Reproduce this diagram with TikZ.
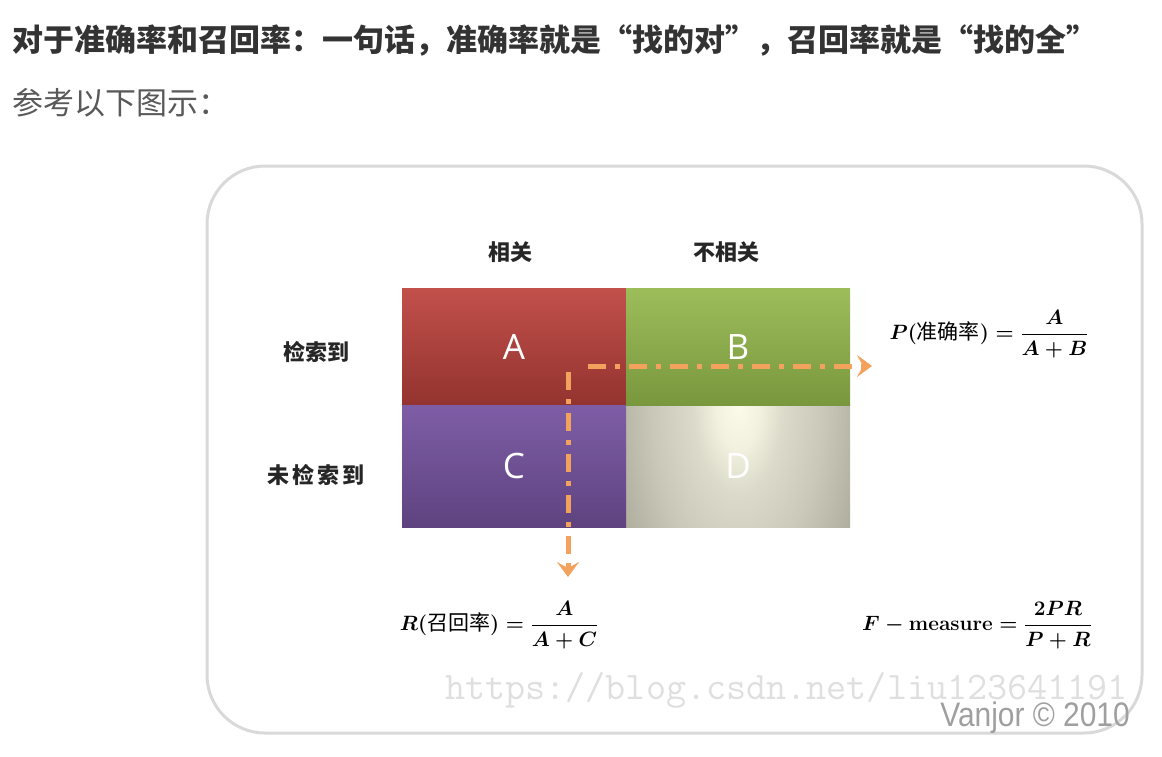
\documentclass[tikz,border=0pt]{standalone}
\usepackage{amsmath,amssymb}
\usepackage{graphicx}
\usepackage{fontspec}
\newfontfamily\cjk{Noto Sans CJK SC}
\newfontfamily\lettersf{Open Sans}
\newfontfamily\creditsf{Liberation Sans}
\usepackage{tikz}
\usetikzlibrary{arrows.meta,positioning,backgrounds}

\definecolor{redA}{HTML}{C2504B}
\definecolor{redAdark}{HTML}{93332F}
\definecolor{greenB}{HTML}{9DBD5B}
\definecolor{greenBdark}{HTML}{79973D}
\definecolor{purpleC}{HTML}{7E5DA6}
\definecolor{purpleCdark}{HTML}{5E4380}
\definecolor{flowOrange}{HTML}{F2A25C}

\pgfdeclareradialshading{cellglow}{\pgfpoint{0bp}{0bp}}{%
  color(0bp)=(rgb,255:red,252;green,250;blue,232);
  color(5bp)=(rgb,255:red,242;green,240;blue,222);
  color(10bp)=(rgb,255:red,220;green,218;blue,202);
  color(19bp)=(rgb,255:red,202;green,200;blue,184);
  color(30bp)=(rgb,255:red,172;green,170;blue,154);
  color(36bp)=(rgb,255:red,142;green,140;blue,124);
  color(100bp)=(rgb,255:red,136;green,134;blue,118)}

\begin{document}
\begin{tikzpicture}[
  x=1pt, y=-1pt,
  cell/.style={rectangle, minimum width=224pt, minimum height=117pt, inner sep=0pt, outer sep=0pt, text=white, font=\lettersf\fontsize{35}{40}\selectfont},
  headtext/.style={font=\cjk\bfseries\fontsize{22}{26}\selectfont, text=black!85},
  formula/.style={font=\fontsize{21}{25}\selectfont\boldmath, text=black},
  flow/.style={draw=flowOrange, line width=5pt, dash pattern=on 18pt off 9pt on 5pt off 9pt, -{Stealth[length=15pt,width=22pt,inset=6pt]}},
  >=Stealth
]
\useasboundingbox (0,0) rectangle (1162,756);

% Heading
\node[anchor=west, inner sep=0pt, font=\cjk\bfseries\fontsize{31}{36}\selectfont, text=black!80] (title) at (12,40) {对于准确率和召回率：一句话，准确率就是“找的对”，召回率就是“找的全”};
\node[anchor=west, inner sep=0pt, font=\cjk\fontsize{31}{36}\selectfont, text=black!65] (subtitle) at (12,103) {参考以下图示：};

% Frame
\node[draw=gray!30, line width=3pt, rounded corners=58pt, minimum width=935pt, minimum height=567pt] (frame) at (674.5,449.5) {};

% Cells
\node[cell, top color=redA, bottom color=redAdark] (cellA) at (514,346.5) {A};
\node[cell, top color=greenB, bottom color=greenBdark, right=0pt of cellA] (cellB) {B};
\node[cell, minimum height=122pt, top color=purpleC, bottom color=purpleCdark, below=0pt of cellA] (cellC) {C};
\node[cell, minimum height=122pt, below=0pt of cellB] (cellD) {D};
\begin{scope}[on background layer]
  \clip (cellD.south west) rectangle (cellD.north east);
  \path[shading=cellglow] ([yshift=220pt]cellD.north west) rectangle ([yshift=-220pt]cellD.north east);
\end{scope}

% Labels
\node[headtext] (colRel) at (510,252) {相关};
\node[headtext] (colNonRel) at (726,252) {不相关};
\node[headtext] (rowHit) at (316,352) {检索到};
\node[headtext, font=\cjk\bfseries\fontsize{22}{26}\selectfont\addfontfeature{LetterSpace=15}] (rowMiss) at (316,475) {未检索到};

% Formulas
\node[formula] (precision) at (989,334) {$P(\mbox{\cjk 准确率})=\dfrac{A}{A+B}$};
\node[formula] (recall) at (499,625) {$R(\mbox{\cjk 召回率})=\dfrac{A}{A+C}$};
\node[formula] (fmeasure) at (977,625) {$F-\mathbf{measure}=\dfrac{2PR}{P+R}$};

% Arrows
\coordinate (hStart) at (588,366);
\coordinate (hEnd) at (872,366);
\coordinate (vStart) at (568,372);
\coordinate (vEnd) at (568,577);
\draw[flow] (hStart) -- (hEnd);
\draw[flow] (vStart) -- (vEnd);

% Marks
\node[anchor=west, inner sep=0pt, font=\ttfamily\fontsize{39}{40}\selectfont, text=gray!25] (blogUrl) at (445,690) {https://blog.csdn.net/liu123641191};
\node[anchor=east, inner sep=0pt, font=\creditsf\fontsize{34}{36}\selectfont, text=gray!75] (credit) at (1130,718) {\scalebox{0.88}[1]{Vanjor © 2010}};

\end{tikzpicture}
\end{document}
